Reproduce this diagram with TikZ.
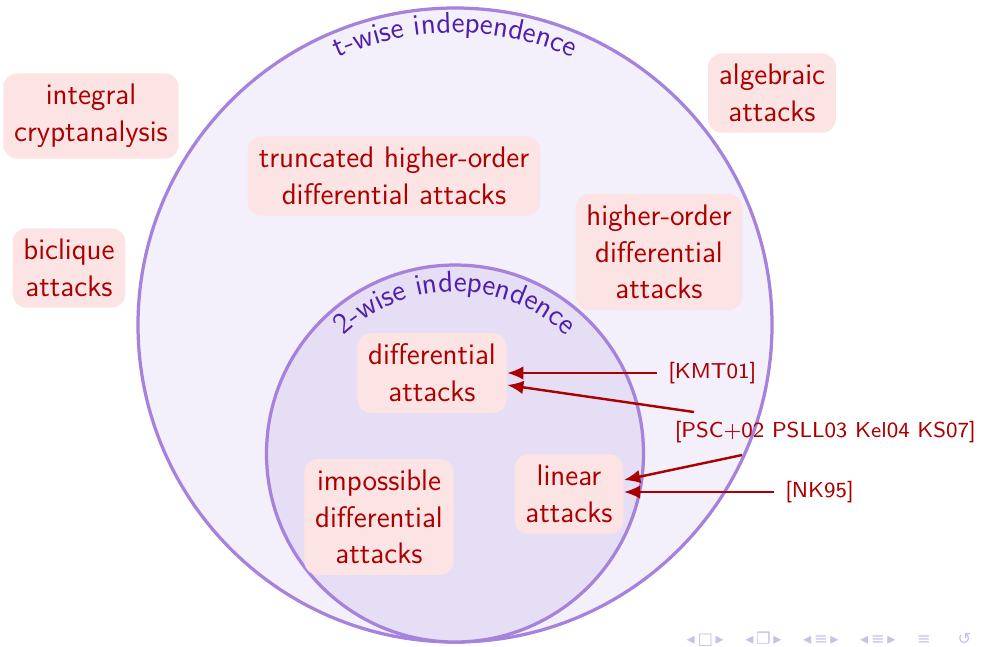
\documentclass[tikz,border=0pt]{standalone}
\usepackage{fontspec}
\newfontfamily\symfont{DejaVu Sans}
\usetikzlibrary{arrows.meta,decorations.text}

\definecolor{attackred}{RGB}{170,0,0}
\definecolor{attackfill}{RGB}{253,228,228}
\definecolor{setline}{RGB}{165,130,220}
\definecolor{outerfill}{RGB}{243,239,251}
\definecolor{innerfill}{RGB}{230,222,244}
\definecolor{setlabel}{RGB}{80,30,170}
\definecolor{navgray}{RGB}{200,192,232}

\tikzset{
  attack/.style={fill=attackfill, text=attackred, rounded corners=5pt,
    align=center, inner sep=4pt, font=\fontsize{11}{13.6}\selectfont\sffamily},
  reference/.style={text=attackred, inner sep=1pt,
    font=\fontsize{8}{10}\selectfont\sffamily},
  cite/.style={draw=attackred, line width=0.9pt, -{Latex[length=6pt,width=5pt]}},
  wiseset/.style={draw=setline, line width=1.2pt},
}

\begin{document}
\begin{tikzpicture}[x=0.013cm, y=0.013cm]
\useasboundingbox (0,0) rectangle (981,-646);

% the two sets, tangent at the bottom
\filldraw [wiseset, fill=outerfill] (455,-325) circle (317);
\filldraw [wiseset, fill=innerfill] (455,-453.5) circle (188.5);
\path [postaction={decorate}, decoration={text along path, text align=center,
  text={|\fontsize{11}{13.6}\selectfont\sffamily\color{setlabel}|t-wise independence}}]
  (455,-325) ++(160:292) arc (160:20:292);
\path [postaction={decorate}, decoration={text along path, text align=center,
  text={|\fontsize{11}{13.6}\selectfont\sffamily\color{setlabel}|2-wise independence}}]
  (455,-453.5) ++(165:162) arc (165:15:162);

% attacks
\node [attack] (integral) at (91,-116) {integral\\cryptanalysis};
\node [attack] (biclique) at (69,-268) {biclique\\attacks};
\node [attack] (truncated) at (394,-176) {truncated higher-order\\differential attacks};
\node [attack] (algebraic) at (772,-93) {algebraic\\attacks};
\node [attack] (higher) at (659,-252) {higher-order\\differential\\attacks};
\node [attack] (diff) at (432,-373) {differential\\attacks};
\node [attack] (impossible) at (379,-517) {impossible\\differential\\attacks};
\node [attack] (linear) at (569,-494) {linear\\attacks};

% references
\node [reference, anchor=west] (kmt) at (665,-373) {[KMT01]};
\node [reference, anchor=east] (psc) at (979,-432) {[PSC+02 PSLL03 Kel04 KS07]};
\node [reference, anchor=west] (nk) at (782,-492) {[NK95]};
\coordinate (psctop) at (694,-412);
\coordinate (pscbot) at (742,-455);

\draw [cite] ([xshift=-8*0.013cm]kmt.west) -- (diff.east |- kmt.west);
\draw [cite] (psctop) -- ([yshift=-12*0.013cm]diff.east);
\draw [cite] (pscbot) -- ([yshift=14*0.013cm]linear.east);
\draw [cite] ([xshift=-8*0.013cm]nk.west) -- (linear.east |- nk.west);

% navigation symbols
\node [text=navgray, font=\symfont\fontsize{6}{7}\selectfont, inner sep=0pt]
  (nav) at (829,-639) {◂\,□\,▸\hspace{8pt}◂\,❐\,▸\hspace{8pt}◂\,≡\,▸\hspace{8pt}◂\,≡\,▸\hspace{8pt}≡\hspace{10pt}↺};
\end{tikzpicture}
\end{document}
